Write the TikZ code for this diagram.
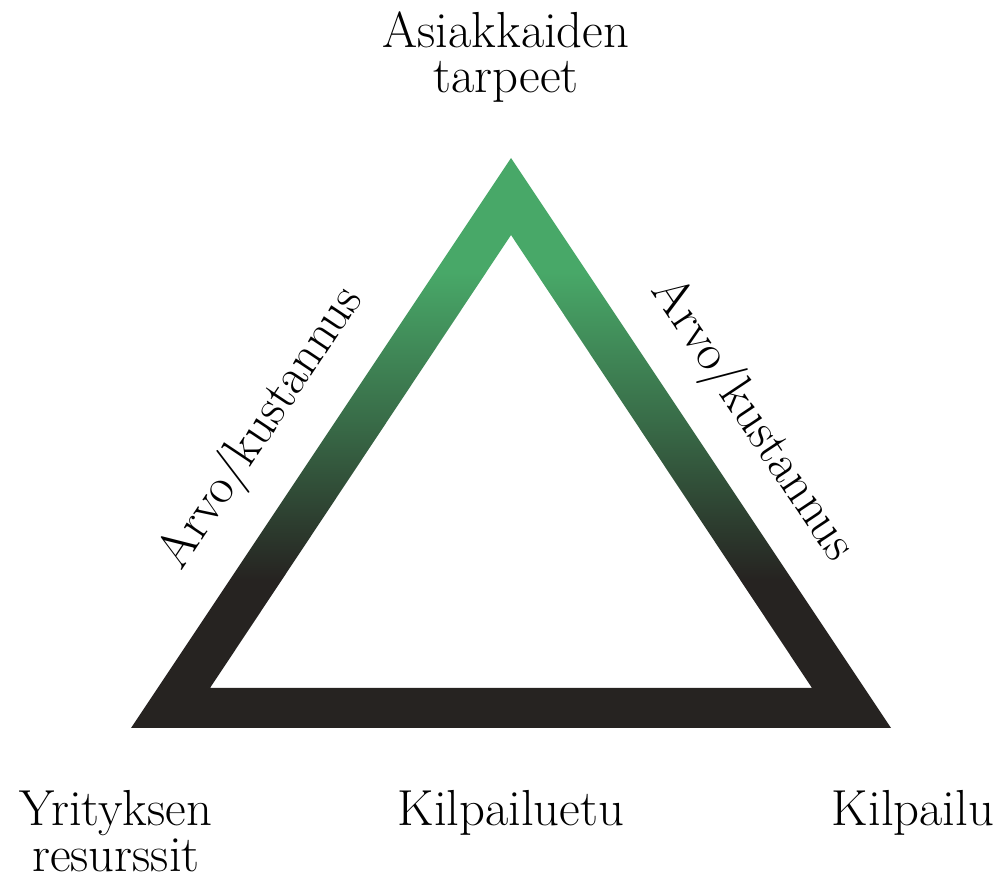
\documentclass[tikz,border=0pt]{standalone}
\usepackage{tikz}
\usetikzlibrary{positioning, calc}
\definecolor{trigreen}{RGB}{72,168,104}
\definecolor{tridark}{RGB}{38,35,33}
\pgfdeclareverticalshading{triband}{100bp}{color(0bp)=(tridark); color(38bp)=(tridark);
	color(52bp)=(trigreen!55!tridark); color(65bp)=(trigreen); color(100bp)=(trigreen)}
\tikzset{
	corner/.style={font=\fontsize{38}{34}\selectfont, align=center, inner sep=0pt},
	side/.style={corner},
	band/.style={shading=triband, even odd rule}
}

\begin{document}
\begin{tikzpicture}[x=0.75pt, y=0.75pt]
	\useasboundingbox (0,0) rectangle (1003,882);
	% Outer corners
	\coordinate (O-1) at (511,724);
	\coordinate (O-2) at (131,154);
	\coordinate (O-3) at (891,154);
	% Inner corners
	\coordinate (I-1) at (511,647);
	\coordinate (I-2) at (210,194);
	\coordinate (I-3) at (812,194);
	
	% Triangle band
	\shade[band] (O-1) -- (O-2) -- (O-3) -- cycle (I-1) -- (I-2) -- (I-3) -- cycle;
	
	% Corner texts
	\node[corner] (C-1) at (506,825) {Asiakkaiden\\tarpeet};
	\node[corner] (C-2) at (116,51) {Yrityksen\\resurssit};
	\node[corner, anchor=base] (C-3) at (913,57) {Kilpailu};
	\node[corner, anchor=base] (C-4) at (511,57) {Kilpailuetu};
	
	% Side texts
	\node[side, rotate=56.3] (S-1) at (262,454) {Arvo/kustannus};
	\node[side, rotate=-56.3] (S-2) at (752,462) {Arvo/kustannus};
\end{tikzpicture}
\end{document}
